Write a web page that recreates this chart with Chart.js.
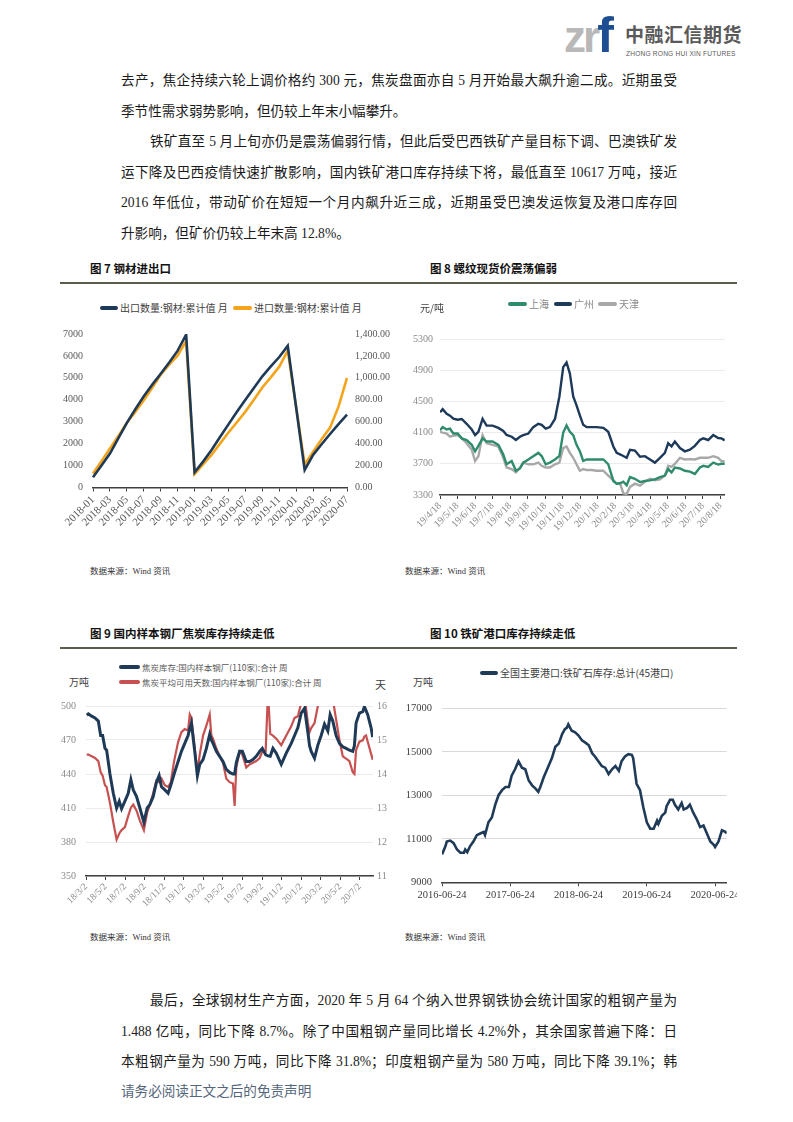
<!DOCTYPE html>
<html lang="zh-CN">
<head>
<meta charset="utf-8">
<title>钢材进出口 / 螺纹现货价 / 焦炭库存 / 铁矿港口库存</title>
<script src="https://cdn.jsdelivr.net/npm/chart.js@4.4.1/dist/chart.umd.min.js"></script>
<style>
  body { margin: 0; background: #fff; }
  #page { position: relative; width: 793px; height: 1122px; overflow: hidden; background: #fff;
          font-family: "Liberation Serif", "Noto Sans CJK SC", serif; color: #1a1a1a; }
  .txt { position: absolute; left: 121px; width: 556px; font-size: 13.6px; line-height: 20px;
         text-align: justify; text-align-last: justify; }
  .txt.ind { left: 150px; width: 527px; }
  .txt.end { text-align-last: left; }
  .fig { position: absolute; font-family: "Noto Sans CJK SC"; font-weight: 700; font-size: 11.5px;
         line-height: 16px; color: #111; white-space: nowrap; }
  .rule { position: absolute; left: 60px; width: 677px; height: 2px; background: #5c5c4c; }
  .src { position: absolute; font-size: 8.5px; line-height: 12px; color: #333; white-space: nowrap; }
  .lg { position: absolute; font-family: "Noto Sans CJK SC"; white-space: nowrap; display: flex; align-items: center; }
  .lg i { display: inline-block; height: 4px; border-radius: 2px; margin-right: 2px; }
  .unit { position: absolute; font-family: "Noto Sans CJK SC"; white-space: nowrap; }
  canvas { position: absolute; }
</style>
</head>
<body>
<div id="page">

  <!-- logo -->
  <div style="position:absolute; left:564px; top:12px; font-family:'Liberation Sans'; font-weight:700; font-size:44px; line-height:46px; letter-spacing:-3px; color:#b8b8b8;">zr<span style="color:#1c4e91; font-size:50px;">f</span></div>
  <div style="position:absolute; left:625px; top:21px; font-family:'Noto Sans CJK SC'; font-weight:700; font-size:19px; line-height:26px; color:#5a5a5a; letter-spacing:0.5px;">中融汇信期货</div>
  <div style="position:absolute; left:626px; top:49px; font-family:'Liberation Sans'; font-size:6.6px; line-height:9px; color:#5a5a5a; letter-spacing:0.2px;">ZHONG RONG HUI XIN FUTURES</div>

  <!-- body text -->
  <div class="txt" style="top:71px">去产，焦企持续六轮上调价格约 300 元，焦炭盘面亦自 5 月开始最大飙升逾二成。近期虽受</div>
  <div class="txt end" style="top:101.5px">季节性需求弱势影响，但仍较上年末小幅攀升。</div>
  <div class="txt ind" style="top:132px">铁矿直至 5 月上旬亦仍是震荡偏弱行情，但此后受巴西铁矿产量目标下调、巴澳铁矿发</div>
  <div class="txt" style="top:162.5px">运下降及巴西疫情快速扩散影响，国内铁矿港口库存持续下将，最低直至 10617 万吨，接近</div>
  <div class="txt" style="top:193px">2016 年低位，带动矿价在短短一个月内飙升近三成，近期虽受巴澳发运恢复及港口库存回</div>
  <div class="txt end" style="top:223.5px">升影响，但矿价仍较上年末高 12.8%。</div>

  <!-- figure titles, row 1 -->
  <div class="fig" style="left:90px; top:260px;">图 7&nbsp;钢材进出口</div>
  <div class="fig" style="left:430px; top:260px;">图 8&nbsp;螺纹现货价震荡偏弱</div>
  <div class="rule" style="top:282px;"></div>

  <!-- legend fig 7 -->
  <div class="lg" style="left:100px; top:300px; font-size:10px; color:#404040;"><i style="width:18px; background:#1f3a57;"></i>出口数量:钢材:累计值 月</div>
  <div class="lg" style="left:233px; top:300px; font-size:10px; color:#404040;"><i style="width:19px; background:#f3a41b;"></i>进口数量:钢材:累计值 月</div>
  <canvas id="c7" width="345" height="226" style="left:60px; top:318px;"></canvas>

  <!-- legend fig 8 -->
  <div class="lg" style="left:508px; top:296px; font-size:10px; color:#8a8a8a;"><i style="width:19px; background:#2f8b6e;"></i>上海</div>
  <div class="lg" style="left:554px; top:296px; font-size:10px; color:#8a8a8a;"><i style="width:18px; background:#1d3a5a;"></i>广州</div>
  <div class="lg" style="left:598px; top:296px; font-size:10px; color:#8a8a8a;"><i style="width:19px; background:#a8a8a8;"></i>天津</div>
  <div class="unit" style="left:420px; top:300px; font-size:10px; color:#404040;">元/吨</div>
  <canvas id="c8" width="330" height="216" style="left:400px; top:326px;"></canvas>

  <div class="src" style="left:90px; top:565px;">数据来源：Wind 资讯</div>
  <div class="src" style="left:405px; top:565px;">数据来源：Wind 资讯</div>

  <!-- figure titles, row 2 -->
  <div class="fig" style="left:90px; top:625px;">图 9&nbsp;国内样本钢厂焦炭库存持续走低</div>
  <div class="fig" style="left:430px; top:625px;">图 10&nbsp;铁矿港口库存持续走低</div>
  <div class="rule" style="top:647px;"></div>

  <!-- legend fig 9 -->
  <div class="lg" style="left:119px; top:661px; font-size:8.5px; color:#595959;"><i style="width:21px; background:#1e3a57;"></i>焦炭库存:国内样本钢厂(110家):合计 周</div>
  <div class="lg" style="left:119px; top:676px; font-size:8.5px; color:#595959;"><i style="width:21px; background:#c65150;"></i>焦炭平均可用天数:国内样本钢厂(110家):合计 周</div>
  <div class="unit" style="left:69px; top:674px; font-size:10px; color:#404040;">万吨</div>
  <div class="unit" style="left:375px; top:676px; font-size:11px; color:#404040;">天</div>
  <canvas id="c9" width="330" height="218" style="left:60px; top:690px;"></canvas>

  <!-- legend fig 10 -->
  <div class="lg" style="left:480px; top:665px; font-size:10px; color:#404040;"><i style="width:18px; background:#1f3b57;"></i>全国主要港口:铁矿石库存:总计(45港口)</div>
  <div class="unit" style="left:413px; top:674px; font-size:10px; color:#404040;">万吨</div>
  <div style="position:absolute; left:400px; top:692px; width:337px; height:222px; overflow:hidden;">
    <canvas id="c10" width="352" height="222" style="left:0; top:0;"></canvas>
  </div>

  <div class="src" style="left:90px; top:931px;">数据来源：Wind 资讯</div>
  <div class="src" style="left:405px; top:931px;">数据来源：Wind 资讯</div>

  <!-- closing paragraph -->
  <div class="txt ind" style="top:991px">最后，全球钢材生产方面，2020 年 5 月 64 个纳入世界钢铁协会统计国家的粗钢产量为</div>
  <div class="txt" style="top:1021.5px">1.488 亿吨，同比下降 8.7%。除了中国粗钢产量同比增长 4.2%外，其余国家普遍下降：日</div>
  <div class="txt" style="top:1052px">本粗钢产量为 590 万吨，同比下降 31.8%；印度粗钢产量为 580 万吨，同比下降 39.1%；韩</div>
  <div class="txt end" style="top:1082px; color:#55667b;">请务必阅读正文之后的免责声明</div>
</div>

<script>
// ---- fig 7: steel export / import, cumulative by month ----
const steelMonths = ['2018-01','2018-02','2018-03','2018-04','2018-05','2018-06','2018-07','2018-08','2018-09','2018-10','2018-11','2018-12',
  '2019-01','2019-02','2019-03','2019-04','2019-05','2019-06','2019-07','2019-08','2019-09','2019-10','2019-11','2019-12',
  '2020-01','2020-02','2020-03','2020-04','2020-05','2020-06','2020-07'];
const steelExport = [470, 1000, 1550, 2250, 2950, 3570, 4160, 4690, 5190, 5700, 6240, 6970,
  690, 1180, 1710, 2300, 2880, 3450, 4000, 4540, 5070, 5520, 5950, 6460,
  null, 800, 1490, 1970, 2440, 2890, 3320];
const steelImport = [128, 240, 357, 470, 590, 690, 795, 910, 1030, 1120, 1205, 1336,
  122, 210, 298, 400, 502, 595, 692, 800, 912, 1005, 1102, 1248,
  null, 210, 327, 440, 546, 737, 1000];

// ---- fig 8: rebar spot price, x = months after 19/4/18 ----
const priceLabels = ['19/4/18','19/5/18','19/6/18','19/7/18','19/8/18','19/9/18','19/10/18','19/11/18','19/12/18',
  '20/1/18','20/2/18','20/3/18','20/4/18','20/5/18','20/6/18','20/7/18','20/8/18'];
const priceT = [0, 0.15, 0.38, 0.57, 0.76, 1.01, 1.24, 1.52, 1.81, 2.00, 2.19, 2.43, 2.66, 3.00, 3.33,
  3.61, 3.80, 4.09, 4.33, 4.56, 4.75, 5.04, 5.32, 5.61, 5.80, 6.03, 6.27, 6.56, 6.81, 7.03,
  7.22, 7.41, 7.60, 7.79, 7.98, 8.17, 8.37, 8.65, 8.94, 9.32, 9.60, 9.89, 10.08, 10.27, 10.46,
  10.65, 10.84, 11.12, 11.41, 11.69, 11.98, 12.26, 12.55, 12.83, 13.02, 13.21, 13.40, 13.69, 13.97, 14.26,
  14.54, 14.83, 15.02, 15.30, 15.59, 15.87, 16.06, 16.25];
const priceSH = [4130, 4170, 4140, 4150, 4088, 4090, 4026, 4005, 3943, 3860, 3930, 4026, 3985, 3985, 3943,
  3819, 3694, 3736, 3611, 3640, 3715, 3756, 3798, 3840, 3800, 3694, 3715, 3756, 3800, 4100,
  4192, 4110, 4068, 3943, 3860, 3736, 3756, 3756, 3756, 3756, 3694, 3480, 3445, 3450, 3470,
  3425, 3530, 3508, 3466, 3480, 3487, 3500, 3528, 3549, 3632, 3590, 3653, 3640, 3611, 3600,
  3570, 3653, 3674, 3660, 3715, 3690, 3700, 3700];
const priceGZ = [4360, 4400, 4340, 4317, 4280, 4265, 4275, 4213, 4140, 4068, 4110, 4275, 4190, 4190, 4160,
  4120, 4070, 4047, 4005, 4047, 4068, 4088, 4170, 4213, 4200, 4150, 4170, 4275, 4560, 4940,
  5000, 4856, 4565, 4450, 4320, 4200, 4170, 4170, 4170, 4160, 4110, 3922, 3840, 3820, 3800,
  3777, 3880, 3870, 3790, 3798, 3756, 3715, 3777, 3840, 3964, 3922, 3985, 3902, 3860, 3881,
  3930, 4005, 4026, 4005, 4068, 4030, 4026, 4000];
const priceTJ = [4110, 4100, 4088, 4047, 4060, 4068, 4026, 3964, 3881, 3736, 3798, 4068, 3964, 3943, 3922,
  3777, 3653, 3632, 3590, 3650, 3715, 3694, 3694, 3715, 3674, 3653, 3653, 3694, 3715, 3902,
  3922, 3840, 3777, 3694, 3611, 3632, 3620, 3620, 3611, 3611, 3549, 3487, 3445, 3450, 3320,
  3312, 3404, 3445, 3420, 3470, 3508, 3490, 3500, 3549, 3674, 3660, 3700, 3777, 3756, 3760,
  3756, 3777, 3777, 3777, 3798, 3777, 3736, 3730];

// ---- fig 9: coke stock (万吨) and days of use, x = months after 18/3/2 ----
const cokeLabels = ['18/3/2','18/5/2','18/7/2','18/9/2','18/11/2','19/1/2','19/3/2','19/5/2','19/7/2','19/9/2',
  '19/11/2','20/1/2','20/3/2','20/5/2','20/7/2'];
const cokeT = [0.07, 0.24, 0.58, 0.92, 1.26, 1.50, 1.70, 1.94, 2.11, 2.45, 2.79, 3.13, 3.40, 3.64, 3.98,
  4.32, 4.59, 4.83, 5.17, 5.51, 5.92, 6.26, 6.53, 6.87, 7.21, 7.48, 7.72, 8.06, 8.40, 8.67,
  9.01, 9.42, 9.76, 10.10, 10.44, 10.61, 10.78, 11.12, 11.39, 11.63, 11.97, 12.31, 12.65, 12.82, 12.99,
  13.33, 13.67, 14.01, 14.35, 14.69, 15.03, 15.20, 15.37, 15.71, 15.99, 16.39, 16.73, 17.07, 17.41, 17.76,
  18.03, 18.37, 18.61, 18.84, 19.12, 19.46, 19.97, 20.48, 20.99, 21.33, 21.67, 22.01, 22.35, 22.69, 22.86,
  23.03, 23.37, 23.71, 24.05, 24.39, 24.73, 24.97, 25.24, 25.58, 25.92, 26.26, 26.60, 26.94, 27.28, 27.45,
  27.62, 27.96, 28.30, 28.47, 28.64, 28.81, 29.15, 29.32];
const cokeStock = [492, 493, 491, 489.5, 486.7, 474, 474, 462.6, 461, 440, 423, 410, 416, 409.4, 416,
  423, 435, 426, 420, 410, 397.5, 410, 413, 420, 433, 438.6, 428.7, 426, 423, 430,
  440, 451, 460, 467, 474, 480, 485, 460, 438.6, 448.5, 452.7, 462.6, 475, 470, 467,
  460, 455.6, 451, 444, 441.4, 440, 440, 450, 460, 460, 451, 451, 452.7, 455.6, 460,
  462.6, 457, 456, 455.6, 462.6, 458.4, 448.5, 458.4, 467, 474, 481, 493.8, 498, 476.8, 465,
  460, 454, 465.5, 474, 484, 478, 492.4, 486.7, 474, 467, 464, 462.6, 461, 460, 465,
  485, 493.8, 495, 499.4, 496, 492.4, 481, 472.5];
const cokeDays = [14.57, 14.57, 14.52, 14.47, 14.38, 14.05, 13.95, 13.67, 13.62, 13.15, 12.58, 12.07, 12.25, 12.35, 12.44,
  12.77, 13.01, 13.10, 12.92, 12.63, 12.35, 12.87, 13.10, 13.43, 13.81, 13.76, 13.86, 13.67, 13.62, 13.76,
  14.38, 14.94, 15.23, 15.32, 15.28, 15.75, 15.65, 14.75, 14.05, 14.57, 15.13, 15.42, 15.75, 15.13, 15.04,
  14.75, 14.52, 14.33, 13.86, 13.76, 13.72, 13.06, 14.19, 14.66, 14.57, 14.19, 14.28, 14.33, 14.38, 14.47,
  14.66, 14.66, 16.4, 15.18, 15.13, 15.04, 14.85, 15.13, 15.40, 15.65, 15.70, 16.1, 16.3, 15.5, 15.23,
  15.35, 15.50, 16.0, 16.4, 16.5, 16.5, 16.5, 16.2, 15.6, 15.0, 14.52, 14.45, 14.38, 14.05, 14.0,
  14.7, 14.95, 14.99, 15.1, 15.13, 14.95, 14.6, 14.42];

// ---- fig 10: iron ore stock at 45 ports, x = years after 2016-06-24 ----
const portLabels = ['2016-06-24','2017-06-24','2018-06-24','2019-06-24','2020-06-24'];
const portT = [0, 0.05, 0.07, 0.12, 0.17, 0.22, 0.27, 0.32, 0.34, 0.37, 0.41, 0.46, 0.51, 0.56, 0.61,
  0.63, 0.68, 0.73, 0.78, 0.83, 0.88, 0.93, 0.98, 1.02, 1.07, 1.12, 1.17, 1.22, 1.27, 1.32,
  1.37, 1.41, 1.44, 1.49, 1.54, 1.61, 1.66, 1.71, 1.76, 1.80, 1.83, 1.85, 1.90, 1.95, 2.00,
  2.05, 2.10, 2.15, 2.20, 2.24, 2.29, 2.34, 2.39, 2.44, 2.49, 2.54, 2.59, 2.63, 2.68, 2.73,
  2.78, 2.80, 2.85, 2.90, 2.95, 3.00, 3.05, 3.10, 3.15, 3.17, 3.22, 3.27, 3.29, 3.34, 3.38,
  3.41, 3.46, 3.51, 3.54, 3.59, 3.63, 3.68, 3.73, 3.78, 3.83, 3.88, 3.93, 3.98, 4.00, 4.05,
  4.10, 4.15, 4.17];
const portStock = [10284, 10653, 10874, 10919, 10800, 10505, 10358, 10358, 10505, 10387, 10653, 10874, 11169, 11243, 11317,
  11169, 11760, 11981, 12572, 13015, 13236, 13384, 13384, 13900, 14196, 14565, 14270, 14196, 13679, 13457,
  13310, 13162, 13384, 13827, 14196, 14712, 15229, 15376, 15819, 16040, 16114, 16262, 15967, 15893, 15745,
  15524, 15420, 15303, 14934, 14786, 14565, 14343, 14270, 13974, 14196, 14343, 14122, 14565, 14786, 14889,
  14860, 14712, 13531, 13236, 12424, 11760, 11465, 11465, 11834, 11686, 12055, 12203, 12498, 12793, 12793,
  12572, 12350, 12646, 12350, 12424, 12572, 12203, 11908, 11539, 11612, 11243, 10874, 10727, 10623, 10874,
  11391, 11317, 11243];

const navy = '#1f3a57';
const serif = 'Liberation Serif';

const pairs = (xs, ys) => xs.map((x, i) => ({ x: x, y: ys[i] }));
const plain = (v) => String(v);   // no thousands separator on the left axes

const line = (data, color, width, axis) => ({
  data: data,
  borderColor: color,
  borderWidth: width,
  pointRadius: 0,
  tension: 0,
  fill: false,
  spanGaps: true,
  yAxisID: axis || 'y',
});

const base = (padding) => ({
  responsive: false,
  animation: false,
  devicePixelRatio: 1,
  layout: { padding: padding },
  plugins: { legend: { display: false }, tooltip: { enabled: false } },
});

// bottom axis with small tick marks and a dark axis line
const bottomGrid = { display: true, drawOnChartArea: false, drawTicks: true, tickLength: 4, color: '#404040', lineWidth: 1 };
const bottomBorder = { display: true, color: '#404040', width: 1.5 };

// fig 7
new Chart(document.getElementById('c7'), {
  type: 'line',
  data: {
    labels: steelMonths,
    datasets: [
      line(steelExport, navy, 2.6, 'y'),
      line(steelImport, '#f3a41b', 2.6, 'y1'),
    ],
  },
  options: {
    ...base({ top: 10, right: 0, bottom: 0, left: 0 }),
    scales: {
      x: {
        grid: bottomGrid,
        border: bottomBorder,
        ticks: {
          autoSkip: false, minRotation: 45, maxRotation: 45, padding: 2,
          color: '#595959', font: { family: serif, size: 11 },
          callback: (v, i) => (i % 2 === 0 ? steelMonths[i] : null),
        },
        afterFit: (s) => { s.height = 56.5; },
      },
      y: {
        position: 'left', min: 0, max: 7000,
        grid: { display: false, drawTicks: false },
        border: { display: false },
        ticks: { stepSize: 1000, padding: 10, color: '#595959', font: { family: serif, size: 10 }, callback: plain },
        afterFit: (s) => { s.width = 33; },
      },
      y1: {
        position: 'right', min: 0, max: 1400,
        grid: { display: false, drawTicks: false },
        border: { display: false },
        ticks: {
          stepSize: 200, padding: 8, color: '#595959', font: { family: serif, size: 10 },
          callback: (v) => v.toLocaleString('en-US', { minimumFractionDigits: 2, maximumFractionDigits: 2 }),
        },
        afterFit: (s) => { s.width = 58; },
      },
    },
  },
});

// fig 8
new Chart(document.getElementById('c8'), {
  type: 'line',
  data: {
    datasets: [
      line(pairs(priceT, priceSH), '#2f8b6e', 2.4),
      line(pairs(priceT, priceGZ), '#1d3a5a', 2.4),
      line(pairs(priceT, priceTJ), '#a8a8a8', 2.4),
    ],
  },
  options: {
    ...base({ top: 8, right: 5, bottom: 0, left: 0 }),
    scales: {
      x: {
        type: 'linear', min: 0, max: 16.25,
        grid: bottomGrid,
        border: bottomBorder,
        ticks: {
          stepSize: 1, includeBounds: false, autoSkip: false, minRotation: 45, maxRotation: 45, padding: 1,
          color: '#8a8a8a', font: { family: serif, size: 10 },
          callback: (v) => (priceLabels[v] !== undefined ? priceLabels[v] : null),
        },
        afterFit: (s) => { s.height = 47; },
      },
      y: {
        min: 3300, max: 5300,
        grid: { display: true, drawTicks: false, color: '#ebebeb' },
        border: { display: false },
        ticks: { stepSize: 400, padding: 7, color: '#8a8a8a', font: { family: serif, size: 10 }, callback: plain },
        afterFit: (s) => { s.width = 40; },
      },
    },
  },
});

// fig 9
new Chart(document.getElementById('c9'), {
  type: 'line',
  data: {
    datasets: [
      line(pairs(cokeT, cokeStock), '#1e3a57', 3, 'y'),
      line(pairs(cokeT, cokeDays), '#c65150', 2.2, 'y1'),
    ],
  },
  options: {
    ...base({ top: 9, right: 0, bottom: 0, left: 0 }),
    scales: {
      x: {
        type: 'linear', min: 0, max: 29.35,
        grid: bottomGrid,
        border: bottomBorder,
        ticks: {
          stepSize: 2, includeBounds: false, autoSkip: false, minRotation: 45, maxRotation: 45, padding: 1,
          color: '#8a8a8a', font: { family: serif, size: 9.5 },
          callback: (v) => (cokeLabels[v / 2] !== undefined ? cokeLabels[v / 2] : null),
        },
        afterFit: (s) => { s.height = 32; },
      },
      y: {
        position: 'left', min: 350, max: 500,
        grid: { display: true, drawTicks: false, color: '#ebebeb' },
        border: { display: false },
        ticks: { stepSize: 30, padding: 10, color: '#8a8a8a', font: { family: serif, size: 10 } },
        afterFit: (s) => { s.width = 26; },
      },
      y1: {
        position: 'right', min: 11, max: 16,
        grid: { display: false, drawTicks: false },
        border: { display: false },
        ticks: { stepSize: 1, padding: 4, color: '#8a8a8a', font: { family: serif, size: 10 } },
        afterFit: (s) => { s.width = 17; },
      },
    },
  },
});

// fig 10
new Chart(document.getElementById('c10'), {
  type: 'line',
  data: {
    datasets: [line(pairs(portT, portStock), '#1f3b57', 2.6)],
  },
  options: {
    ...base({ top: 10, right: 25.3, bottom: 0, left: 0 }),
    scales: {
      x: {
        type: 'linear', min: 0, max: 4.17,
        grid: bottomGrid,
        border: bottomBorder,
        ticks: {
          stepSize: 1, includeBounds: false, autoSkip: false, maxRotation: 0, padding: 3,
          color: '#404040', font: { family: serif, size: 10.5 },
          callback: (v) => (portLabels[v] !== undefined ? portLabels[v] : null),
        },
        afterFit: (s) => { s.height = 31.7; },
      },
      y: {
        min: 9000, max: 17000,
        grid: { display: true, drawTicks: false, color: '#d9d9d9' },
        border: { display: false },
        ticks: { stepSize: 2000, padding: 10, color: '#404040', font: { family: serif, size: 10.5 }, callback: plain },
        afterFit: (s) => { s.width = 42; },
      },
    },
  },
});
</script>
</body>
</html>
